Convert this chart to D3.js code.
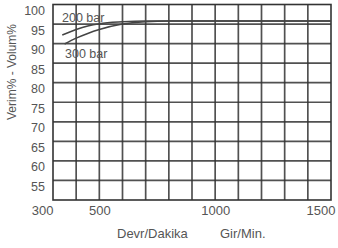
<!DOCTYPE html>
<html>
<head>
<meta charset="utf-8">
<script src="https://cdn.jsdelivr.net/npm/d3@7"></script>
<style>
  body { margin: 0; background: #fff; }
  svg text { font-family: "Liberation Sans", Arial, sans-serif; fill: #555; }
</style>
</head>
<body>
<svg id="chart"></svg>
<script>
// values
var rpm200 = [340, 400, 450, 500, 600, 700, 800, 1000, 1500];
var vol200 = [92.2, 93.6, 94.5, 95.1, 95.6, 95.8, 95.8, 95.8, 95.8];
var rpm300 = [350, 400, 450, 500, 600, 700, 800, 1000, 1500];
var vol300 = [89.9, 91.4, 92.6, 93.6, 95.0, 95.6, 95.8, 95.8, 95.8];
var xTicks = [300, 500, 1000, 1500];
var yTicks = [55, 60, 65, 70, 75, 80, 85, 90, 95, 100];
var xGrid = d3.range(400, 1500, 100);
var yGrid = d3.range(55, 100, 5);

var width = 338, height = 248;
var svg = d3.select('#chart').attr('width', width).attr('height', height);

var x = d3.scaleLinear().domain([300, 1500]).range([53, 331]);
var y = d3.scaleLinear().domain([50, 100]).range([200, 4.5]);

var g = svg.append('g');

// grid
g.selectAll('line.vx').data(xGrid).enter().append('line')
  .attr('x1', function(d){ return x(d); }).attr('x2', function(d){ return x(d); })
  .attr('y1', y(100)).attr('y2', y(50))
  .attr('stroke', '#333').attr('stroke-width', 1.7).attr('opacity', 0.85);
g.selectAll('line.hy').data(yGrid).enter().append('line')
  .attr('y1', function(d){ return y(d); }).attr('y2', function(d){ return y(d); })
  .attr('x1', x(300)).attr('x2', x(1500))
  .attr('stroke', '#333').attr('stroke-width', 1.7).attr('opacity', 0.85);

g.append('rect')
  .attr('x', x(300)).attr('y', y(100))
  .attr('width', x(1500) - x(300)).attr('height', y(50) - y(100))
  .attr('fill', 'none').attr('stroke', '#333').attr('stroke-width', 1.6);

// curves
var line = d3.line()
  .x(function(d){ return x(d[0]); })
  .y(function(d){ return y(d[1]); })
  .curve(d3.curveMonotoneX);

[[rpm200, vol200], [rpm300, vol300]].forEach(function(s){
  g.append('path')
    .datum(d3.zip(s[0], s[1]))
    .attr('d', line)
    .attr('fill', 'none')
    .attr('stroke', '#444')
    .attr('stroke-width', 1.5);
});

// axes
var xAxis = g.append('g')
  .attr('transform', 'translate(0,' + y(50) + ')')
  .call(d3.axisBottom(x).tickValues(xTicks).tickFormat(d3.format('d')).tickSize(0).tickPadding(6));
xAxis.select('.domain').remove();
xAxis.selectAll('text')
  .style('font-size', '13px')
  .attr('text-anchor', function(d){ return d === 300 || d === 1500 ? 'end' : 'middle'; })
  .attr('dx', function(d){ return d === 1500 ? 4 : 0; });

var yAxis = g.append('g')
  .attr('transform', 'translate(' + x(300) + ',6)')
  .call(d3.axisLeft(y).tickValues(yTicks).tickFormat(d3.format('d')).tickSize(0).tickPadding(8));
yAxis.select('.domain').remove();
yAxis.selectAll('text').style('font-size', '12.5px');

// labels
g.append('text').attr('x', 62).attr('y', 22).style('font-size', '12.5px').text('200 bar');
g.append('text').attr('x', 65).attr('y', 58).style('font-size', '12.5px').text('300 bar');

g.append('text')
  .attr('transform', 'translate(16,72) rotate(-90)')
  .attr('text-anchor', 'middle')
  .style('font-size', '12px')
  .text('Verim% - Volum%');

g.append('text').attr('x', 117).attr('y', 238).style('font-size', '13px').text('Devr/Dakika');
g.append('text').attr('x', 220).attr('y', 238).style('font-size', '13px').text('Gir/Min.');
</script>
</body>
</html>
